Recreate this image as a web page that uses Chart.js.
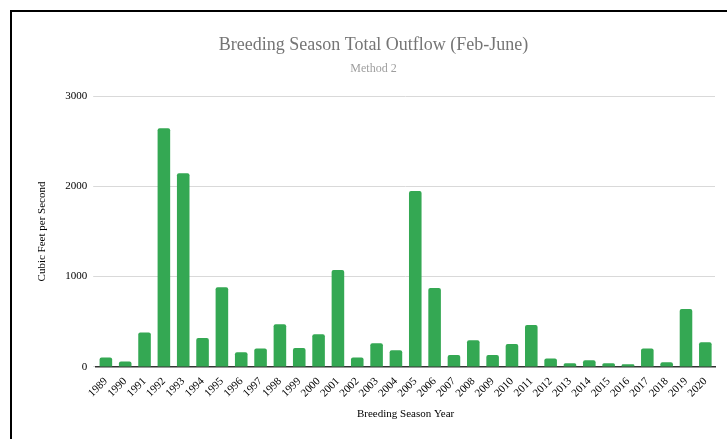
<!DOCTYPE html>
<html>
<head>
<meta charset="utf-8">
<script src="https://cdn.jsdelivr.net/npm/chart.js@4"></script>
<style>
  html, body { margin: 0; padding: 0; background: #fff; }
  #wrap { position: absolute; left: 0; top: 0; width: 727px; height: 439px; }
  #frame { position: absolute; left: 10px; top: 10px; width: 717px; height: 429px;
           border-left: 2px solid #000; border-top: 2px solid #000; box-sizing: border-box; }
  canvas { position: absolute; left: 0; top: 0; }
</style>
</head>
<body>
<div id="wrap">
  <canvas id="grafico" width="727" height="439"></canvas>
  <div id="frame"></div>
</div>
<script>
const anos = ["1989","1990","1991","1992","1993","1994","1995","1996","1997","1998","1999","2000",
  "2001","2002","2003","2004","2005","2006","2007","2008","2009","2010","2011","2012","2013",
  "2014","2015","2016","2017","2018","2019","2020"];
const vazao = [103, 60, 380, 2643, 2144, 321, 882, 162, 203, 472, 210, 362,
  1074, 103, 262, 185, 1948, 875, 133, 295, 133, 255, 465, 92, 41,
  74, 41, 30, 203, 52, 642, 273];
const ticksY = [0, 1000, 2000, 3000];

const fonte = "'Liberation Serif', 'Times New Roman', serif";

new Chart(document.getElementById("grafico"), {
  type: "bar",
  data: {
    labels: anos,
    datasets: [{
      label: "Outflow",
      data: vazao,
      backgroundColor: "#34a853",
      borderRadius: { topLeft: 2, topRight: 2 },
      borderSkipped: "bottom",
      categoryPercentage: 0.65,
      barPercentage: 1
    }]
  },
  options: {
    responsive: false,
    animation: false,
    layout: { padding: { top: 34, left: 32, right: 12, bottom: 14 } },
    plugins: {
      legend: { display: false },
      tooltip: { enabled: false },
      title: {
        display: true,
        text: "Breeding Season Total Outflow (Feb-June)",
        color: "#757575",
        font: { family: fonte, size: 18, weight: "normal" },
        padding: { top: 0, bottom: 6 }
      },
      subtitle: {
        display: true,
        text: "Method 2",
        color: "#9e9e9e",
        font: { family: fonte, size: 12, weight: "normal" },
        padding: { top: 0, bottom: 20 }
      }
    },
    scales: {
      y: {
        min: 0,
        max: 3000,
        afterBuildTicks: (axis) => { axis.ticks = ticksY.map(v => ({ value: v })); },
        ticks: { color: "#000", font: { family: fonte, size: 11 }, padding: 6, callback: (v) => String(v) },
        grid: { color: "#d9d9d9", lineWidth: 1, drawTicks: true, tickLength: 3 },
        border: { display: false },
        title: {
          display: true,
          text: "Cubic Feet per Second",
          color: "#000",
          font: { family: fonte, size: 11 },
          padding: { bottom: 10 }
        }
      },
      x: {
        grid: { display: false },
        border: { color: "#333", width: 1.5 },
        ticks: { color: "#000", font: { family: fonte, size: 11 }, maxRotation: 45, minRotation: 45, autoSkip: false, padding: 0 },
        title: {
          display: true,
          text: "Breeding Season Year",
          color: "#000",
          font: { family: fonte, size: 11 },
          padding: { top: 8 }
        }
      }
    }
  }
});
</script>
</body>
</html>
